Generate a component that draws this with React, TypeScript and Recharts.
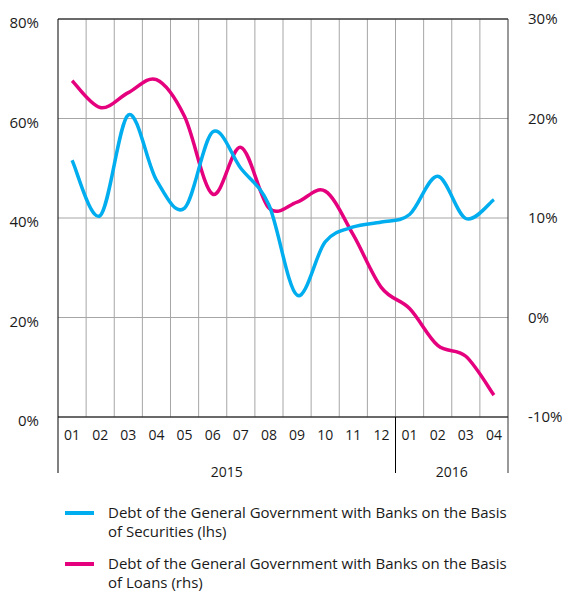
import { LineChart, Line, XAxis, YAxis, CartesianGrid, ReferenceLine } from 'recharts';

const months = ['01', '02', '03', '04', '05', '06', '07', '08', '09', '10', '11', '12', '01', '02', '03', '04'];
const years = ['2015', '2015', '2015', '2015', '2015', '2015', '2015', '2015', '2015', '2015', '2015', '2015', '2016', '2016', '2016', '2016'];
// lhs, %
const securities = [51.6, 40.5, 60.7, 47.6, 42.0, 57.3, 50.0, 42.6, 24.5, 35.2, 38.2, 39.2, 40.7, 48.4, 39.9, 43.7];
// rhs, %
const loans = [23.8, 21.1, 22.6, 23.9, 20.2, 12.4, 17.1, 11.0, 11.6, 12.7, 8.3, 3.0, 0.9, -2.8, -3.9, -7.8];
const leftTicks = [0, 20, 40, 60, 80];
const rightTicks = [-10, 0, 10, 20, 30];

const BLUE = '#00aeef';
const PINK = '#e5007e';
const FONT = "'Open Sans', sans-serif";

const W = 564;
const LEFT_W = 58;
const RIGHT_W = 56;
const PLOT_W = W - LEFT_W - RIGHT_W;
const BW = PLOT_W / months.length;

const data = months.map((m, i) => ({ m, securities: securities[i], loans: loans[i] }));

// Excel-like smoothed line (Catmull-Rom through the points)
function smooth(context: any) {
  let pts: number[][] = [];
  return {
    areaStart() {},
    areaEnd() {},
    lineStart() { pts = []; },
    point(x: number, y: number) { pts.push([+x, +y]); },
    lineEnd() {
      if (!pts.length) return;
      context.moveTo(pts[0][0], pts[0][1]);
      for (let i = 0; i < pts.length - 1; i++) {
        const p0 = pts[i - 1] || pts[i];
        const p1 = pts[i];
        const p2 = pts[i + 1];
        const p3 = pts[i + 2] || p2;
        context.bezierCurveTo(
          p1[0] + (p2[0] - p0[0]) / 6, p1[1] + (p2[1] - p0[1]) / 6,
          p2[0] - (p3[0] - p1[0]) / 6, p2[1] - (p3[1] - p1[1]) / 6,
          p2[0], p2[1]
        );
      }
    },
  };
}

function MonthTick(props: any) {
  const { x, y, index, payload } = props;
  const first = index === 0 || years[index] !== years[index - 1];
  const last = index === months.length - 1;
  const n = years.filter((v) => v === years[index]).length;
  return (
    <g>
      <text x={x} y={y + 23} textAnchor="middle" fontSize={14} fill="#1a1a1a" fontFamily={FONT}>
        {payload.value}
      </text>
      {first && <line x1={x - BW / 2} x2={x - BW / 2} y1={y} y2={y + 56} stroke="#000" />}
      {first && (
        <text x={x - BW / 2 + (n * BW) / 2} y={y + 60} textAnchor="middle" fontSize={14} fill="#1a1a1a" fontFamily={FONT}>
          {years[index]}
        </text>
      )}
      {last && <line x1={x + BW / 2} x2={x + BW / 2} y1={y} y2={y + 56} stroke="#333" />}
    </g>
  );
}

function LegendItem({ color, lines, top }: { color: string; lines: string[]; top: number }) {
  return (
    <div style={{ position: 'absolute', left: 0, top, width: W }}>
      <div style={{ position: 'absolute', left: 65, top: 8, width: 29, height: 3.5, background: color }} />
      <div style={{ position: 'absolute', left: 108, top: 0, fontFamily: FONT, fontSize: 15, lineHeight: '19px', color: '#1a1a1a', whiteSpace: 'nowrap' }}>
        {lines.map((l) => <div key={l}>{l}</div>)}
      </div>
    </div>
  );
}

export default function App() {
  return (
    <div style={{ position: 'absolute', left: 0, top: 0, width: W, height: 593, background: '#fff', overflow: 'hidden' }}>
      <LineChart width={W} height={500} data={data} margin={{ top: 19, right: 0, left: 0, bottom: 20 }}>
        <CartesianGrid
          yAxisId="left"
          stroke="#a6a6a6"
          verticalCoordinatesGenerator={({ offset }: any) =>
            months.slice(1).map((_, i) => offset.left + ((i + 1) * offset.width) / months.length)
          }
        />
        <XAxis
          dataKey="m"
          interval={0}
          height={63}
          tickSize={0}
          tickMargin={0}
          padding={{ left: BW / 2, right: BW / 2 }}
          axisLine={{ stroke: '#000' }}
          tick={<MonthTick />}
        />
        <YAxis
          yAxisId="left"
          width={LEFT_W}
          domain={[0, 80]}
          ticks={leftTicks}
          tickFormatter={(v) => `${v}%`}
          tickSize={0}
          tickMargin={19}
          axisLine={{ stroke: '#000' }}
          tick={{ fontSize: 15, fill: '#1a1a1a', fontFamily: FONT, dy: 4 }}
        />
        <YAxis
          yAxisId="right"
          orientation="right"
          width={RIGHT_W}
          domain={[-10, 30]}
          ticks={rightTicks}
          tickFormatter={(v) => `${v}%`}
          tickSize={0}
          tickMargin={20}
          axisLine={{ stroke: '#333' }}
          tick={{ fontSize: 15, fill: '#1a1a1a', fontFamily: FONT, textAnchor: 'start' }}
        />
        <ReferenceLine yAxisId="left" y={80} stroke="#000" />
        <Line yAxisId="right" dataKey="loans" type={smooth as any} stroke={PINK} strokeWidth={3.5} dot={false} isAnimationActive={false} />
        <Line yAxisId="left" dataKey="securities" type={smooth as any} stroke={BLUE} strokeWidth={3.5} dot={false} isAnimationActive={false} />
      </LineChart>
      <LegendItem color={BLUE} top={503} lines={['Debt of the General Government with Banks on the Basis', 'of Securities  (lhs)']} />
      <LegendItem color={PINK} top={554} lines={['Debt of the General Government with Banks on the Basis', 'of Loans (rhs)']} />
    </div>
  );
}
